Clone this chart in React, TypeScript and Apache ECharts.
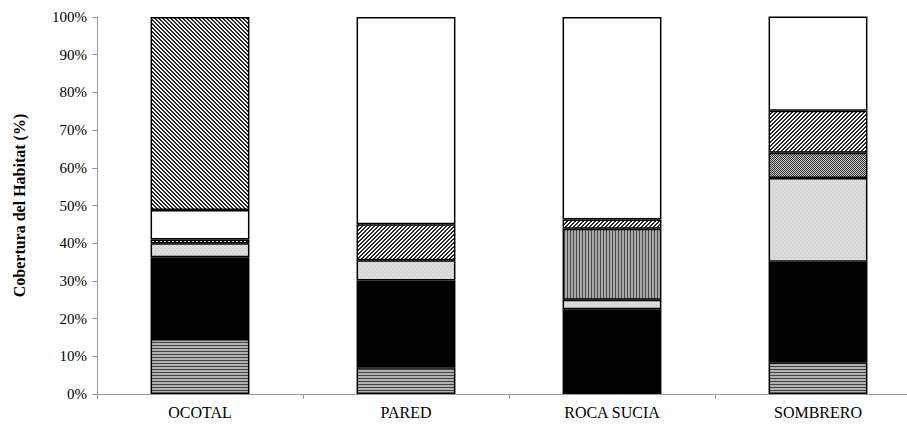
import React, { useEffect, useRef } from "react";
import * as echarts from "echarts";

const categories = ["OCOTAL", "PARED", "ROCA SUCIA", "SOMBRERO"];
const yTicks = [0, 10, 20, 30, 40, 50, 60, 70, 80, 90, 100];
const horizLines = [14.6, 7.1, 0.8, 8.4];
const solidBlack = [21.7, 23.0, 21.7, 26.7];
const lightDots = [3.7, 5.4, 2.5, 22.2];
const verticalLines = [0, 0, 18.8, 0];
const checkered = [0, 0, 0, 6.7];
const diagonal = [1.0, 9.5, 2.5, 11.1];
const whiteFill = [7.8, 55.0, 53.7, 25.0];
const denseDiagonal = [51.2, 0, 0, 0];

function makeCanvas(w: number, h: number, draw: (ctx: CanvasRenderingContext2D) => void) {
  const c = document.createElement("canvas");
  c.width = w;
  c.height = h;
  const ctx = c.getContext("2d")!;
  draw(ctx);
  return { image: c, repeat: "repeat" } as any;
}

export default function App() {
  const ref = useRef<HTMLDivElement>(null);
  useEffect(() => {
    if (!ref.current) return;
    const chart = echarts.init(ref.current, null, { renderer: "svg" });

    const pHoriz = makeCanvas(4, 3, (ctx) => {
      ctx.fillStyle = "#b0b0b0";
      ctx.fillRect(0, 0, 4, 3);
      ctx.fillStyle = "#444444";
      ctx.fillRect(0, 0, 4, 1);
    });
    const pDots = makeCanvas(4, 4, (ctx) => {
      ctx.fillStyle = "#dcdcdc";
      ctx.fillRect(0, 0, 4, 4);
      ctx.fillStyle = "#c8c8c8";
      ctx.fillRect(0, 0, 1, 1);
      ctx.fillRect(2, 2, 1, 1);
    });
    const pVert = makeCanvas(3, 4, (ctx) => {
      ctx.fillStyle = "#a8a8a8";
      ctx.fillRect(0, 0, 3, 4);
      ctx.fillStyle = "#4a4a4a";
      ctx.fillRect(0, 0, 1, 4);
    });
    const pCheck = makeCanvas(2, 2, (ctx) => {
      ctx.fillStyle = "#d0d0d0";
      ctx.fillRect(0, 0, 2, 2);
      ctx.fillStyle = "#2a2a2a";
      ctx.fillRect(0, 0, 1, 1);
      ctx.fillRect(1, 1, 1, 1);
    });
    const diag = (up: boolean) =>
      makeCanvas(4, 4, (ctx) => {
        ctx.fillStyle = "#ffffff";
        ctx.fillRect(0, 0, 4, 4);
        ctx.fillStyle = "#2a2a2a";
        for (let i = 0; i < 4; i++) {
          const x = up ? 3 - i : i;
          ctx.fillRect(x, i, 2, 1);
          if (x + 1 > 3) ctx.fillRect(0, i, 1, 1);
        }
      });
    const pDiag = diag(true);
    const pDense = diag(false);

    const mk = (name: string, data: number[], color: any) => ({
      name,
      type: "bar",
      stack: "total",
      barWidth: "48%",
      data: data.map((v) => (v > 0 ? v : "-")),
      itemStyle: { color, borderColor: "#000", borderWidth: 1.5 },
    });

    chart.setOption({
      animation: false,
      backgroundColor: "#ffffff",
      grid: { left: 97, top: 17, width: 824, height: 377, outerBoundsMode: "none", containLabel: false },
      xAxis: {
        type: "category",
        data: categories,
        axisLine: { lineStyle: { color: "#9a9a9a", width: 1 } },
        axisTick: { show: true, alignWithLabel: false, length: 5, lineStyle: { color: "#9a9a9a" } },
        axisLabel: {
          color: "#000",
          fontFamily: "Liberation Serif",
          fontSize: 16,
          margin: 10,
        },
      },
      yAxis: {
        type: "value",
        min: 0,
        max: 100,
        interval: 10,
        name: "Cobertura del Habitat (%)",
        nameLocation: "middle",
        nameRotate: 90,
        nameGap: 70,
        nameTextStyle: {
          color: "#000",
          fontFamily: "Liberation Serif",
          fontSize: 16,
          fontWeight: "bold",
        },
        splitLine: { show: false },
        axisLine: { show: true, lineStyle: { color: "#9a9a9a", width: 1 } },
        axisTick: { show: true, length: 5, lineStyle: { color: "#9a9a9a" } },
        axisLabel: {
          color: "#000",
          fontFamily: "Liberation Serif",
          fontSize: 15,
          margin: 10,
          formatter: (v: number) => (yTicks.includes(v) ? v + "%" : ""),
        },
      },
      series: [
        mk("Líneas horizontales", horizLines, pHoriz),
        mk("Negro", solidBlack, "#000000"),
        mk("Punteado", lightDots, pDots),
        mk("Líneas verticales", verticalLines, pVert),
        mk("Cuadriculado", checkered, pCheck),
        mk("Diagonal", diagonal, pDiag),
        mk("Blanco", whiteFill, "#ffffff"),
        mk("Diagonal densa", denseDiagonal, pDense),
      ],
    });
    return () => chart.dispose();
  }, []);
  return (
    <div
      ref={ref}
      style={{ position: "fixed", left: 0, top: 0, width: 907, height: 425, background: "#fff" }}
    />
  );
}
